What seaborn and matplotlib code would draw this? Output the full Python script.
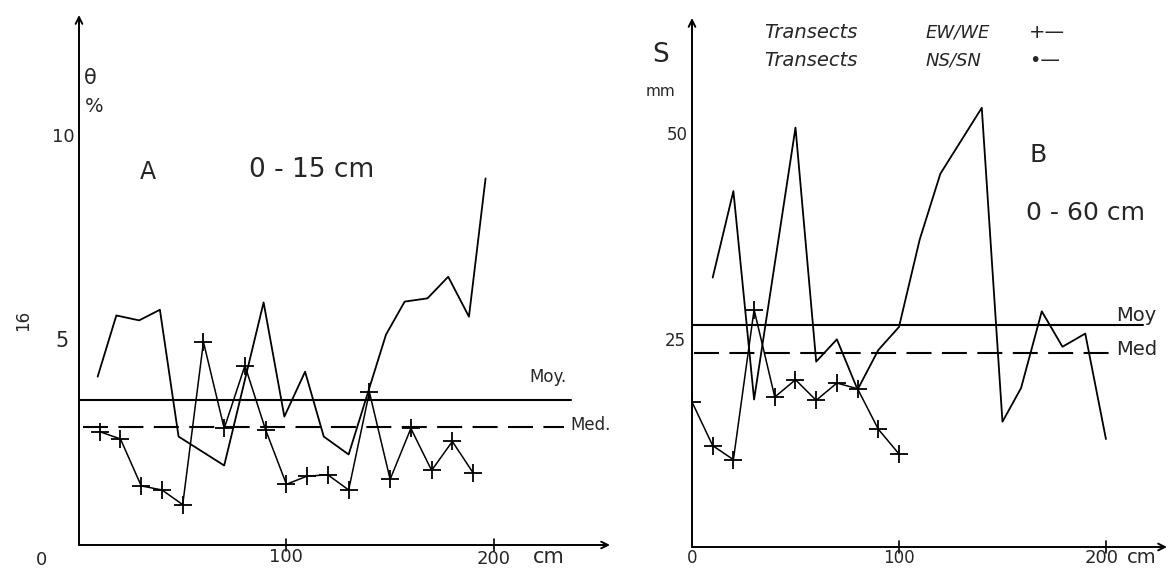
import matplotlib
matplotlib.use("Agg")
import matplotlib.pyplot as plt
import seaborn as sns

# ---- Panel A : 0-15 cm, theta (%) ----
a_ew_x = [10, 20, 30, 40, 50, 60, 70, 80, 90, 100, 110, 120, 130, 140, 150, 160, 170, 180, 190]
a_ew_y = [2.78, 2.6, 1.45, 1.35, 0.99, 4.98, 2.86, 4.4, 2.82, 1.49, 1.69, 1.72, 1.35, 3.75, 1.61, 2.86, 1.83, 2.54, 1.77]
a_ns_x = [9, 18, 29, 39, 48, 70, 89, 99, 109, 118, 130, 148, 157, 168, 178, 188, 196]
a_ns_y = [4.13, 5.63, 5.51, 5.77, 2.66, 1.95, 5.95, 3.15, 4.25, 2.66, 2.22, 5.16, 5.97, 6.05, 6.58, 5.6, 8.99]
a_moy = 3.55
a_med = 2.89

# ---- Panel B : 0-60 cm, S (mm) ----
b_ew_x = [0, 10, 20, 30, 40, 50, 60, 70, 80, 90, 100]
b_ew_y = [17.6, 12.3, 10.6, 28.8, 18.2, 20.3, 17.8, 19.9, 19.2, 14.3, 11.3]
b_ns_x = [10, 20, 30, 50, 60, 70, 80, 90, 100, 110, 120, 140, 150, 159, 169, 179, 190, 200]
b_ns_y = [32.7, 43.2, 17.9, 50.9, 22.5, 25.2, 19.1, 23.9, 26.7, 37.3, 45.3, 53.3, 15.2, 19.3, 28.6, 24.3, 25.9, 13.1]
b_moy = 26.9
b_med = 23.6

sns.set_theme(style="white")
plt.rcParams['font.family'] = ['DejaVu Sans']

fig = plt.figure(figsize=(11.7, 5.77), dpi=100)
axA = fig.add_axes([79 / 1170, 32 / 577, 531 / 1170, 530 / 577])
axB = fig.add_axes([692 / 1170, 30 / 577, 475 / 1170, 529 / 577])


def hand_axes(ax, xmax, ymax):
    ax.set_xlim(0, xmax)
    ax.set_ylim(0, ymax)
    for s in ax.spines.values():
        s.set_visible(False)
    ax.set_xticks([])
    ax.set_yticks([])
    ax.patch.set_alpha(0)
    # axes drawn as arrows like the sketch
    ax.annotate("", xy=(1, 0), xytext=(0, 0), xycoords="axes fraction",
                arrowprops=dict(arrowstyle="->", color="black", lw=1.4,
                                shrinkA=0, shrinkB=0))
    ax.annotate("", xy=(0, 1), xytext=(0, 0), xycoords="axes fraction",
                arrowprops=dict(arrowstyle="->", color="black", lw=1.4,
                                shrinkA=0, shrinkB=0))


hand_axes(axA, 256, 13)
hand_axes(axB, 229.5, 64.2)

# Panel A curves
sns.lineplot(x=a_ns_x, y=a_ns_y, ax=axA, color="black", lw=1.3, sort=False, estimator=None)
sns.lineplot(x=a_ew_x, y=a_ew_y, ax=axA, color="black", lw=1.1, sort=False, estimator=None,
             marker="+", markersize=13, markeredgewidth=1.3, markeredgecolor="black")
axA.plot([0, 237], [a_moy, a_moy], color="black", lw=1.5)
axA.plot([2, 234], [a_med, a_med], color="black", lw=1.5, dashes=(12, 5))
axA.text(217, a_moy + 0.35, "Moy.", fontsize=12, ha="left", va="bottom")
axA.text(237, a_med + 0.05, "Med.", fontsize=12, ha="left", va="center")

# Panel A ticks and labels
for xv in [100, 200]:
    axA.plot([xv, xv], [-0.15, 0.15], color="black", lw=1.2, clip_on=False)
axA.text(100, -0.3, "100", fontsize=13, ha="center", va="center")
axA.text(200, -0.35, "200", fontsize=13, ha="center", va="center")
axA.text(219, -0.3, "cm", fontsize=15, ha="left", va="center")
axA.text(-18, -0.37, "0", fontsize=13, ha="center", va="center")
axA.text(-5, 5, "5", fontsize=15, ha="right", va="center")
axA.text(-2, 10, "10", fontsize=13, ha="right", va="center")
axA.text(2.5, 11.45, "θ", fontsize=15, ha="left", va="center")
axA.text(3, 10.75, "%", fontsize=14, ha="left", va="center")
axA.text(33, 9.15, "A", fontsize=17, ha="center", va="center")
axA.text(112, 9.2, "0 - 15 cm", fontsize=19, ha="center", va="center")
axA.text(-27, 5.5, "16", fontsize=12, ha="center", va="center", rotation=90)

# Panel B curves
sns.lineplot(x=b_ns_x, y=b_ns_y, ax=axB, color="black", lw=1.3, sort=False, estimator=None)
sns.lineplot(x=b_ew_x, y=b_ew_y, ax=axB, color="black", lw=1.1, sort=False, estimator=None,
             marker="+", markersize=13, markeredgewidth=1.3, markeredgecolor="black")
axB.plot([0, 218], [b_moy, b_moy], color="black", lw=1.5)
axB.plot([1, 205], [b_med, b_med], color="black", lw=1.5, dashes=(12, 5))
axB.text(205, b_moy + 1.2, "Moy", fontsize=14, ha="left", va="center")
axB.text(205, b_med + 0.4, "Med", fontsize=14, ha="left", va="center")

# Panel B ticks and labels
for xv in [100, 200]:
    axB.plot([xv, xv], [-0.7, 0.7], color="black", lw=1.2, clip_on=False)
axB.text(0, -1.3, "0", fontsize=12, ha="center", va="center")
axB.text(100, -1.3, "100", fontsize=12, ha="center", va="center")
axB.text(198, -1.3, "200", fontsize=13, ha="center", va="center")
axB.text(210, -1.3, "cm", fontsize=14, ha="left", va="center")
axB.text(-3, 25, "25", fontsize=12, ha="right", va="center")
axB.text(-2, 50, "50", fontsize=12, ha="right", va="center")
axB.text(-15, 59.7, "S", fontsize=19, ha="center", va="center")
axB.text(-15, 55.3, "mm", fontsize=11, ha="center", va="center")
axB.text(167, 47.6, "B", fontsize=18, ha="center", va="center")
axB.text(190, 40.5, "0 - 60 cm", fontsize=18, ha="center", va="center")

# hand-written legend, pieces placed separately for the wide spacing
legend_rows = [(62.4, "EW/WE", "+\u2014"), (59.0, "NS/SN", "\u2022\u2014")]
for ly, code, sym in legend_rows:
    axB.text(35, ly, "Transects", fontsize=14, ha="left", va="center", style="italic")
    axB.text(113, ly, code, fontsize=13, ha="left", va="center", style="italic")
    axB.text(163, ly, sym, fontsize=14, ha="left", va="center")

fig.savefig("out.png", dpi=100)
